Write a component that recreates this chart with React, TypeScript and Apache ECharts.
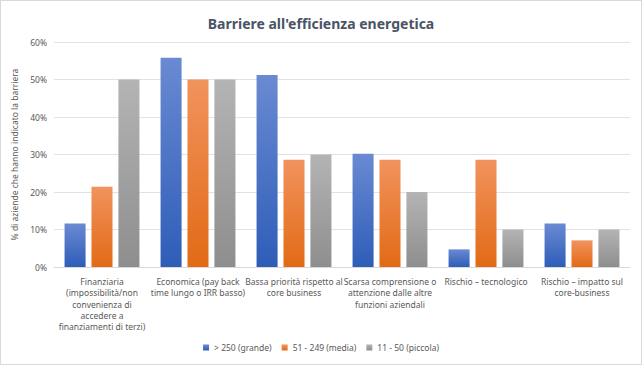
import React, { useEffect, useRef } from "react";
import * as echarts from "echarts";

const categories = [
  "Finanziaria\n(impossibilità/non\nconvenienza di\naccedere a\nfinanziamenti di terzi)",
  "Economica (pay back\ntime lungo o IRR basso)",
  "Bassa priorità rispetto al\ncore business",
  "Scarsa comprensione o\nattenzione dalle altre\nfunzioni aziendali",
  "Rischio – tecnologico",
  "Rischio – impatto sul\ncore-business",
];
const seriesNames = ["> 250 (grande)", "51 - 249 (media)", "11 - 50 (piccola)"];
const grande = [11.6, 55.8, 51.2, 30.2, 4.7, 11.6];
const media = [21.4, 50.0, 28.6, 28.6, 28.6, 7.1];
const piccola = [50, 50, 30, 20, 10, 10];
const yTicks = { min: 0, max: 60, interval: 10 };

const FONT = "'Noto Sans', 'Open Sans', sans-serif";
const TXT = "#595959";

const grad = (top: string, bottom: string) => ({
  type: "linear",
  x: 0,
  y: 0,
  x2: 0,
  y2: 1,
  colorStops: [
    { offset: 0, color: top },
    { offset: 1, color: bottom },
  ],
});

export default function App() {
  const ref = useRef<HTMLDivElement>(null);
  useEffect(() => {
    if (!ref.current) return;
    const chart = echarts.init(ref.current, undefined, { renderer: "svg" });
    const colors = [
      grad("#6a8ad2", "#2e5db8"),
      grad("#f1935d", "#e26a16"),
      grad("#b4b4b4", "#8e8e8e"),
    ];
    const data = [grande, media, piccola];
    chart.setOption({
      animation: false,
      textStyle: { fontFamily: FONT },
      title: {
        text: "Barriere all'efficienza energetica",
        left: "center",
        top: 10,
        textStyle: { fontFamily: FONT, fontSize: 14, fontWeight: "bold", color: "#4a5466" },
      },
      legend: {
        bottom: 7,
        left: "center",
        icon: "rect",
        itemWidth: 6,
        itemHeight: 6,
        itemGap: 10,
        textStyle: { fontFamily: FONT, fontSize: 8.5, color: TXT },
        data: seriesNames,
      },
      grid: { left: 53, right: 11, top: 41, bottom: 97 },
      xAxis: {
        type: "category",
        data: categories,
        axisLine: { lineStyle: { color: "#d9d9d9" } },
        axisTick: { show: false },
        axisLabel: {
          interval: 0,
          fontFamily: FONT,
          fontSize: 8.5,
          lineHeight: 11.3,
          color: TXT,
          margin: 9,
          align: "center",
        },
      },
      yAxis: {
        type: "value",
        min: yTicks.min,
        max: yTicks.max,
        interval: yTicks.interval,
        name: "% di aziende che hanno indicato la barriera",
        nameLocation: "middle",
        nameGap: 30,
        nameTextStyle: { fontFamily: FONT, fontSize: 8.5, color: TXT },
        axisLabel: { formatter: "{value}%", fontFamily: FONT, fontSize: 8.5, color: TXT, margin: 7 },
        splitLine: { lineStyle: { color: "#dfe2e8" } },
        axisLine: { show: false },
        axisTick: { show: false },
      },
      series: seriesNames.map((name, i) => ({
        name,
        type: "bar",
        data: data[i],
        barGap: "28%",
        barCategoryGap: "22%",
        itemStyle: { color: colors[i] },
      })),
    });
    return () => chart.dispose();
  }, []);
  return (
    <div
      style={{
        position: "fixed",
        left: 0,
        top: 0,
        width: 642,
        height: 365,
        boxSizing: "border-box",
        border: "1px solid #d9d9d9",
        background: "#fff",
      }}
    >
      <div ref={ref} style={{ width: 640, height: 363 }} />
    </div>
  );
}
